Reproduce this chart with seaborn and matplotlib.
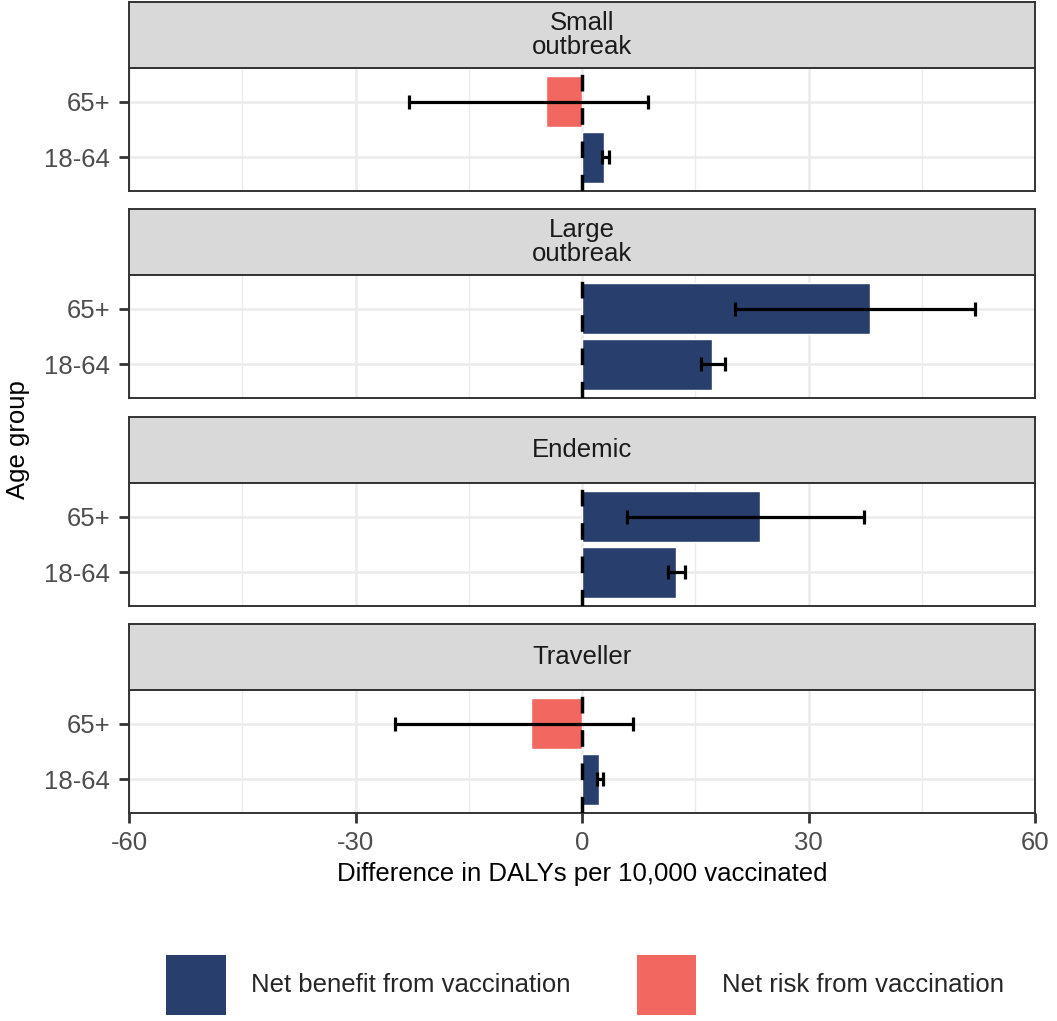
import matplotlib
matplotlib.use("Agg")
import matplotlib.pyplot as plt
from matplotlib.patches import Patch
from matplotlib.ticker import MultipleLocator
import pandas as pd
import seaborn as sns

# data
scenarios = ["Small\noutbreak", "Large\noutbreak", "Endemic", "Traveller"]
age_order = ["65+", "18-64"]
diff_65 = [-4.8, 38.2, 23.6, -6.7]
lo_65 = [-22.9, 20.2, 5.9, -24.8]
hi_65 = [8.7, 52.0, 37.3, 6.8]
diff_1864 = [2.9, 17.2, 12.4, 2.3]
lo_1864 = [2.6, 15.8, 11.4, 2.0]
hi_1864 = [3.6, 18.9, 13.6, 2.8]
effect_labels = ["Net benefit from vaccination", "Net risk from vaccination"]
x_ticks = [-60, -30, 0, 30, 60]

colors = {effect_labels[0]: "#283F6E", effect_labels[1]: "#F2675F"}

rows = []
for i, sc in enumerate(scenarios):
    rows.append((sc, "65+", diff_65[i], lo_65[i], hi_65[i]))
    rows.append((sc, "18-64", diff_1864[i], lo_1864[i], hi_1864[i]))
df = pd.DataFrame(rows, columns=["scenario", "age", "diff", "lo", "hi"])
df["effect"] = [effect_labels[0] if d >= 0 else effect_labels[1] for d in df["diff"]]

sns.set_theme(style="white")
plt.rcParams["font.family"] = ["Liberation Sans", "DejaVu Sans"]

W, H = 1057, 1021
fig = plt.figure(figsize=(W / 100, H / 100), dpi=100)

left, right = 129, 1035
strip_tops = [2, 209, 417, 624]
strip_h = 66
panel_h = 123
edge = "#333333"
fs = 18.5


def px_axes(x0, y0, w, h):
    return fig.add_axes([x0 / W, 1 - (y0 + h) / H, w / W, h / H])


for i, sc in enumerate(scenarios):
    top = strip_tops[i]
    # strip header
    sax = px_axes(left, top, right - left, strip_h)
    sax.set_facecolor("#D9D9D9")
    sax.set_xticks([])
    sax.set_yticks([])
    for sp in sax.spines.values():
        sp.set_color(edge)
        sp.set_linewidth(1.4)
    sax.text(0.5, 0.5, sc, ha="center", va="center", fontsize=fs,
             color="#1A1A1A", transform=sax.transAxes, linespacing=0.95)

    ax = px_axes(left, top + strip_h, right - left, panel_h)
    sub = df[df["scenario"] == sc]
    sns.barplot(data=sub, y="age", x="diff", hue="effect", order=age_order,
                hue_order=effect_labels, palette=colors, dodge=False,
                saturation=1, width=0.9, errorbar=None, legend=False,
                ax=ax, zorder=2)
    pos = [age_order.index(a) for a in sub["age"]]
    ax.errorbar(sub["diff"], pos,
                xerr=[sub["diff"] - sub["lo"], sub["hi"] - sub["diff"]],
                fmt="none", ecolor="black", elinewidth=2.3, capsize=4.7,
                capthick=2.3, zorder=4)
    ax.axvline(0, color="black", lw=2.5, ls=(0, (4.8, 4.8)), zorder=5)

    ax.set_xlim(-60, 60)
    ax.set_ylim(1.6, -0.6)
    ax.xaxis.set_major_locator(MultipleLocator(30))
    ax.xaxis.set_minor_locator(MultipleLocator(15))
    ax.grid(which="major", color="#EBEBEB", lw=1.8, zorder=0)
    ax.grid(which="minor", axis="x", color="#EBEBEB", lw=1.0, zorder=0)
    ax.set_axisbelow(True)
    ax.set_xlabel("")
    ax.set_ylabel("")
    for sp in ax.spines.values():
        sp.set_color(edge)
        sp.set_linewidth(1.4)
    ax.tick_params(axis="y", left=True, length=7, width=2, color=edge,
                   labelsize=fs, labelcolor="#4D4D4D", pad=6.5)
    ax.tick_params(axis="x", which="minor", bottom=False)
    if i == len(scenarios) - 1:
        ax.set_xticks(x_ticks)
        ax.set_xticklabels([str(t) for t in x_ticks])
        ax.tick_params(axis="x", bottom=True, length=7, width=2, color=edge,
                       labelsize=fs, labelcolor="#4D4D4D", pad=6)
        ax.set_xlabel("Difference in DALYs per 10,000 vaccinated",
                      fontsize=fs, color="black", labelpad=5)
    else:
        ax.tick_params(axis="x", bottom=False, labelbottom=False)

fig.text(18 / W, 1 - 440 / H, "Age group", rotation=90, ha="center",
         va="center", fontsize=fs, color="black")

handles = [Patch(facecolor=colors[e], edgecolor="none", label=e)
           for e in effect_labels]
fig.legend(handles=handles, loc="center", bbox_to_anchor=(585 / W, 1 - 985 / H),
           ncol=2, frameon=False, fontsize=fs, handlelength=2.33,
           handleheight=3.2, handletextpad=1.0, columnspacing=2.55)

fig.savefig("out.png", dpi=100)
